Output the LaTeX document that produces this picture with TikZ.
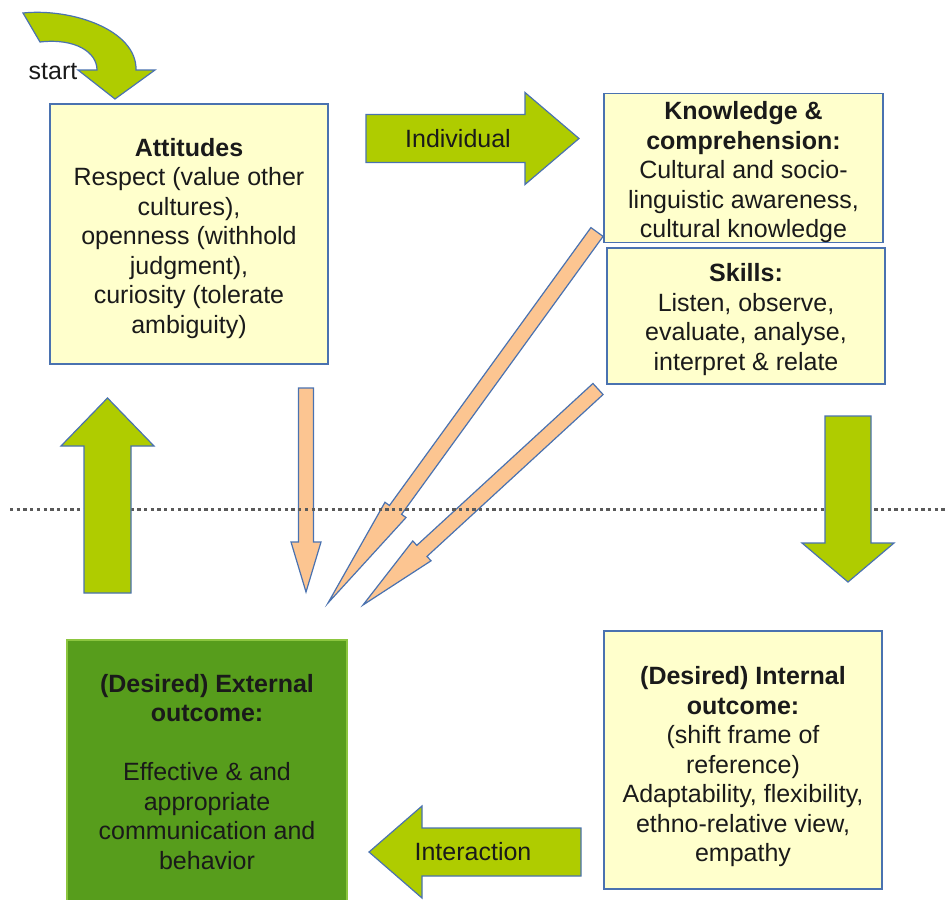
\documentclass[tikz,border=0pt]{standalone}
\usepackage{fontspec}
\setmainfont{Liberation Sans}
\usetikzlibrary{calc}
\definecolor{boxfill}{HTML}{FFFFCC}
\definecolor{boxline}{HTML}{4A72B0}
\definecolor{limegr}{HTML}{AFCC00}
\definecolor{peach}{HTML}{FCC591}
\definecolor{extgreen}{HTML}{579D1C}
\definecolor{extline}{HTML}{8CC63F}
\definecolor{txt}{HTML}{1A1A1A}
\definecolor{dotgray}{HTML}{5A5A5A}
\newcommand\blockarrow[6]{%
  \coordinate (ba-h) at ($(#2)!#5!(#1)$);
  \draw[#6] ($(#1)!#3!90:(#2)$) -- ($(ba-h)!#3!90:(#2)$) -- ($(ba-h)!#4!90:(#2)$) -- (#2)
    -- ($(ba-h)!#4!-90:(#2)$) -- ($(ba-h)!#3!-90:(#2)$) -- ($(#1)!#3!-90:(#2)$) -- cycle;}
\newcommand\topstrut[1]{\rule{0pt}{#1}}
\tikzset{
  basefont/.style={font=\fontsize{25}{29.5}\selectfont, text=txt},
  ybox/.style={basefont, draw=boxline, line width=1.3pt, fill=boxfill, inner sep=0pt, align=center},
  gbox/.style={basefont, draw=extline, line width=1.3pt, fill=extgreen, inner sep=0pt, align=center},
  greenarrow/.style={fill=limegr, draw=boxline, line width=1.2pt, line join=miter},
  peacharrow/.style={fill=peach, draw=boxline, line width=1.2pt, line join=miter},
  dotline/.style={draw=dotgray, line width=3pt, dash pattern=on 3.3pt off 3.4pt},
  lbl/.style={basefont, inner sep=0pt}
}
\begin{document}
\begin{tikzpicture}[x=1pt,y=-1pt]
\useasboundingbox[fill=white] (0,0) rectangle (947,899);

% coordinates for block arrows
\coordinate (pvs) at (306,388);  \coordinate (pvt) at (306,592);
\coordinate (d1s) at (597,232);  \coordinate (d1t) at (328,603);
\coordinate (d2s) at (598,389);  \coordinate (d2t) at (363,605);
\coordinate (ins) at (366,138.5); \coordinate (int) at (579,138.5);
\coordinate (ups) at (107.5,593); \coordinate (upt) at (107.5,398);
\coordinate (dns) at (848,416);  \coordinate (dnt) at (848,582);
\coordinate (ias) at (581,852);  \coordinate (iat) at (369,852);
\coordinate (dl) at (10,509);    \coordinate (dr) at (945,509);

% peach arrows
\blockarrow{pvs}{pvt}{7.5pt}{15pt}{50pt}{peacharrow}
\blockarrow{d1s}{d1t}{7.5pt}{13pt}{115pt}{peacharrow}
\blockarrow{d2s}{d2t}{7.5pt}{13.5pt}{80pt}{peacharrow}

% dotted separator
\draw[dotline] (dl) -- (dr);

% boxes
\node[ybox, minimum width=278pt, minimum height=260pt] (att) at (189,234)
  {\topstrut{26.3pt}\textbf{Attitudes}\\Respect (value other\\cultures),\\openness (withhold\\judgment),\\curiosity (tolerate\\ambiguity)};
\node[ybox, minimum width=279pt, minimum height=146pt] (know) at (743.5,168)
  {\topstrut{26.3pt}\textbf{Knowledge \&}\\\textbf{comprehension:}\\Cultural and socio-\\linguistic awareness,\\cultural knowledge};
\node[ybox, minimum width=278pt, minimum height=136pt] (skill) at (746,316)
  {\topstrut{25.3pt}\textbf{Skills:}\\Listen, observe,\\evaluate, analyse,\\interpret \& relate};
\node[ybox, minimum width=278pt, minimum height=258pt] (intern) at (743,760)
  {\topstrut{31.3pt}\textbf{(Desired) Internal}\\\textbf{outcome:}\\(shift frame of\\reference)\\Adaptability, flexibility,\\ethno-relative view,\\empathy};
\node[gbox, minimum width=280pt, minimum height=264pt] (extern) at (207,772)
  {\textbf{(Desired) External}\\\textbf{outcome:}\\[29.5pt]Effective \& and\\appropriate\\communication and\\behavior};

% green arrows
\draw[greenarrow] (23,13) .. controls (72,8) and (137,30) .. (136,70) -- (155,70) -- (115,99)
  -- (78,70) -- (97,70) .. controls (97,52) and (75,38) .. (40,42) -- cycle;
\node[lbl] (start) at (53,72) {start};
\blockarrow{ins}{int}{24pt}{46pt}{54pt}{greenarrow}
\node[lbl] (indiv) at (458,139) {Individual};
\blockarrow{ups}{upt}{23.5pt}{46.5pt}{48pt}{greenarrow}
\blockarrow{dns}{dnt}{23pt}{46pt}{39pt}{greenarrow}
\blockarrow{ias}{iat}{24pt}{46pt}{53pt}{greenarrow}
\node[lbl] (inter) at (473,852) {Interaction};
\end{tikzpicture}
\end{document}
